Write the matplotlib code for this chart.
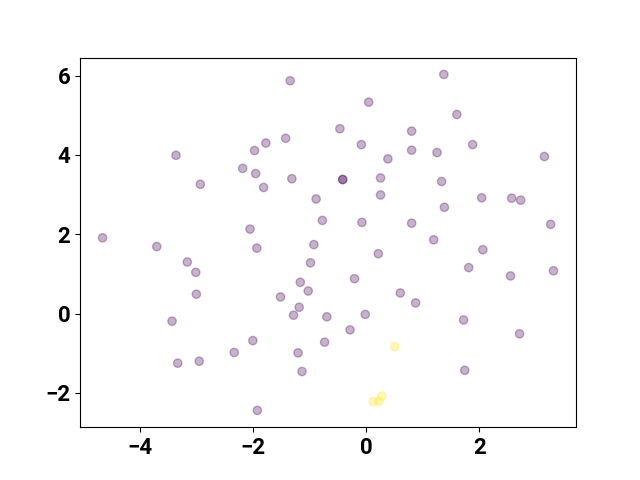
import numpy as np
import matplotlib
matplotlib.use("Agg")
import matplotlib.pyplot as plt
from matplotlib.ticker import MultipleLocator

# point coordinates
x = [-4.67, -3.71, -3.37, -2.94, -3.17, -3.02, -3.01, -3.44, -3.34, -2.96,
     -2.34, -2.01, -1.93, -2.19, -1.98, -1.78, -1.96, -1.82, -2.06, -1.94,
     -1.35, -1.43, -1.32, -1.52, -1.29, -1.19, -1.17, -1.03, -0.89, -0.78,
     -0.93, -0.99, -0.70, -0.74, -1.21, -1.14, -0.42, -0.42, -0.47, 0.04,
     -0.09, 0.25, 0.38, 0.25, -0.08, 0.21, -0.21, -0.02, -0.29, 0.60,
     0.87, 0.80, 0.80, 0.80, 1.25, 1.33, 1.37, 1.60, 1.88, 1.38,
     1.19, 2.04, 2.06, 1.81, 1.72, 1.74, 2.57, 2.73, 2.55, 2.71,
     3.15, 3.26, 3.31,
     0.50, 0.12, 0.22, 0.27]
y = [1.91, 1.69, 3.99, 3.26, 1.30, 1.04, 0.49, -0.19, -1.25, -1.20,
     -0.98, -0.68, -2.44, 3.66, 4.11, 4.30, 3.53, 3.18, 2.13, 1.65,
     5.87, 4.42, 3.40, 0.42, -0.04, 0.16, 0.79, 0.57, 2.89, 2.35,
     1.74, 1.28, -0.08, -0.72, -0.99, -1.46, 3.38, 3.38, 4.66, 5.33,
     4.26, 3.42, 3.90, 2.99, 2.30, 1.51, 0.88, -0.02, -0.41, 0.52,
     0.27, 4.60, 4.12, 2.28, 4.06, 3.33, 6.03, 5.02, 4.26, 2.68,
     1.86, 2.92, 1.61, 1.16, -0.16, -1.43, 2.91, 2.86, 0.95, -0.51,
     3.96, 2.25, 1.08,
     -0.83, -2.22, -2.21, -2.08]
labels = [0] * 73 + [1] * 4

plt.rcParams['font.family'] = ['Roboto', 'DejaVu Sans']

fig, ax = plt.subplots(figsize=(6.4, 4.8), dpi=100)
ax.scatter(x, y, c=labels, cmap='viridis', alpha=0.3)

ax.xaxis.set_major_locator(MultipleLocator(2))
ax.yaxis.set_major_locator(MultipleLocator(2))
for lab in ax.get_xticklabels() + ax.get_yticklabels():
    lab.set_fontweight('bold')
    lab.set_fontsize(16)

fig.savefig('out.png')
